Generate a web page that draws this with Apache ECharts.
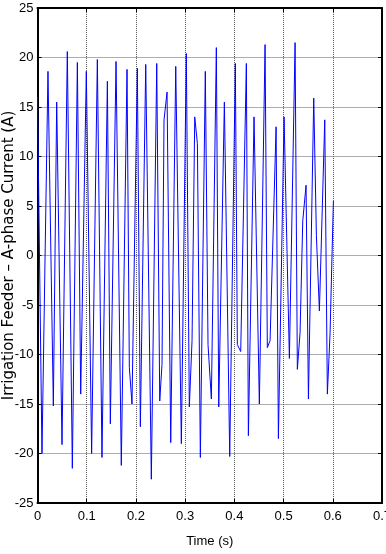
<!DOCTYPE html>
<html>
<head>
<meta charset="utf-8">
<script src="https://cdn.jsdelivr.net/npm/echarts@6/dist/echarts.min.js"></script>
<style>
html,body{margin:0;padding:0;background:#fff;}
#chart{width:386px;height:554px;}
</style>
</head>
<body>
<div id="chart"></div>
<script>
// Time samples (s) and A-phase current values (A)
var times = [0, 0.0091, 0.0213, 0.0322, 0.039, 0.0498, 0.0606, 0.0708, 0.081, 0.0878,
  0.0992, 0.110, 0.1216, 0.131, 0.142, 0.148, 0.1596, 0.1703, 0.1819, 0.1866,
  0.192, 0.2029, 0.209, 0.2199, 0.2313, 0.2423, 0.2484, 0.2530, 0.2571, 0.2632,
  0.2707, 0.2809, 0.2923, 0.3024, 0.3085, 0.314, 0.3195, 0.3249, 0.3309, 0.341,
  0.3465, 0.3533, 0.3634, 0.3683, 0.3797, 0.3906, 0.402, 0.4061, 0.4129, 0.4244,
  0.4285, 0.44, 0.4508, 0.4624, 0.467, 0.4726, 0.4848, 0.4895, 0.501, 0.5118,
  0.5234, 0.528, 0.5335, 0.539, 0.5457, 0.5505, 0.5613, 0.5667, 0.5728, 0.5837,
  0.589, 0.5945, 0.6012];
var current = [16.0, -20.0, 18.6, -15.2, 15.5, -19.1, 20.6, -21.5, 19.5, -14.0,
  18.6, -20.0, 19.8, -20.4, 17.6, -17.0, 19.6, -21.2, 18.8, -11.3,
  -15.0, 18.9, -17.3, 19.3, -22.6, 19.4, -14.7, -11.0, 13.7, 16.5,
  -18.9, 19.1, -19.0, 20.4, -15.3, -8.6, 14.0, 11.3, -20.4, 18.6,
  -9.0, -14.5, 21.0, -15.3, 15.5, -20.3, 19.4, -9.0, -9.7, 19.4,
  -18.2, 14.0, -15.0, 21.3, -9.3, -8.6, 13.0, -18.5, 14.0, -10.4,
  21.5, -11.5, -7.8, 3.5, 7.1, -14.5, 15.9, 2.0, -5.6, 13.7,
  -14.0, -7.8, 5.5];
var yTicks = [-25, -20, -15, -10, -5, 0, 5, 10, 15, 20, 25];
var xTicks = [0, 0.1, 0.2, 0.3, 0.4, 0.5, 0.6, 0.7];

var points = times.map(function (t, i) { return [t, current[i]]; });

var labelFont = {color: '#000', fontFamily: 'Liberation Sans Narrow, Arial Narrow, Liberation Sans, Arial, sans-serif', fontSize: 13};
var frameLine = {show: true, onZero: false, lineStyle: {color: '#000', width: 2}};
var tickIn = {show: true, inside: true, length: 4, lineStyle: {color: '#000', width: 1}};
var gridLine = {show: true, lineStyle: {color: '#5a5a5a', width: 1, type: 'dotted'}};

var chart = echarts.init(document.getElementById('chart'), null, {renderer: 'canvas'});
chart.setOption({
  animation: false,
  backgroundColor: '#fff',
  grid: {left: 37.5, right: 4, top: 8, bottom: 51, containLabel: false, outerBoundsMode: 'none'},
  xAxis: [{
    type: 'value', min: xTicks[0], max: xTicks[xTicks.length - 1], interval: 0.1,
    position: 'bottom',
    name: 'Time (s)', nameLocation: 'middle', nameGap: 32, nameMoveOverlap: false,
    nameTextStyle: labelFont,
    axisLine: frameLine, axisTick: tickIn, splitLine: gridLine,
    axisLabel: Object.assign({margin: 7, formatter: function (v) { return String(Math.round(v * 10) / 10); }}, labelFont)
  }, {
    type: 'value', min: xTicks[0], max: xTicks[xTicks.length - 1], interval: 0.1,
    position: 'top',
    axisLine: frameLine, axisTick: tickIn, splitLine: {show: false},
    axisLabel: {show: false}
  }],
  yAxis: [{
    type: 'value', min: yTicks[0], max: yTicks[yTicks.length - 1], interval: 5,
    position: 'left',
    name: 'Irrigation Feeder \u2013 A-phase Current (A)', nameLocation: 'middle', nameGap: 21,
    nameRotate: 90, nameMoveOverlap: false,
    nameTextStyle: {color: '#000', fontFamily: 'DejaVu Sans, sans-serif', fontSize: 15},
    axisLine: frameLine, axisTick: tickIn, splitLine: gridLine,
    axisLabel: Object.assign({margin: 4}, labelFont)
  }, {
    type: 'value', min: yTicks[0], max: yTicks[yTicks.length - 1], interval: 5,
    position: 'right',
    axisLine: frameLine, axisTick: tickIn, splitLine: {show: false},
    axisLabel: {show: false}
  }],
  series: [{
    type: 'line',
    xAxisIndex: 0, yAxisIndex: 0,
    data: points,
    showSymbol: false,
    smooth: false,
    lineStyle: {color: '#0000ff', width: 1},
    itemStyle: {color: '#0000ff'}
  }]
});
</script>
</body>
</html>
